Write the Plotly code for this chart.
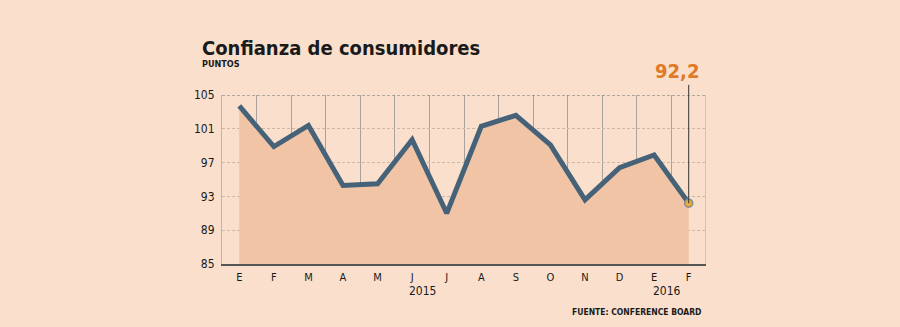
import plotly.graph_objects as go

months = ["E", "F", "M", "A", "M", "J", "J", "A", "S", "O", "N", "D", "E", "F"]
values = [103.7, 98.9, 101.4, 94.3, 94.5, 99.7, 91.0, 101.3, 102.6, 99.1, 92.6, 96.4, 97.9, 92.2]
y_ticks = [85, 89, 93, 97, 101, 105]
last_label = "92,2"

BG = "#F9DFCC"
FILL = "#F2C4A6"
LINE = "#456279"
ORANGE = "#E07A26"
FONT = "DejaVu Sans Condensed, DejaVu Sans, sans-serif"

xs = list(range(len(months)))

fig = go.Figure()
fig.add_trace(go.Scatter(
    x=xs, y=values, mode="lines",
    line=dict(color=LINE, width=5),
    fill="tozeroy", fillcolor=FILL,
    hoverinfo="skip", showlegend=False,
))

# right border line and top dashed line
fig.add_shape(type="line", xref="x", yref="y", x0=len(months) - 0.5, x1=len(months) - 0.5,
              y0=85, y1=105, line=dict(color="#D9C0AE", width=2), layer="below")
fig.add_shape(type="line", xref="x", yref="y", x0=-0.5, x1=len(months) - 0.5,
              y0=105, y1=105, line=dict(color="#6E6E6E", width=1, dash="3px,2px"))
# pointer line for last value
fig.add_shape(type="line", xref="x", yref="y", x0=xs[-1], x1=xs[-1],
              y0=values[-1], y1=105, line=dict(color="#333333", width=1))
fig.add_shape(type="line", xref="x", yref="paper", x0=xs[-1], x1=xs[-1],
              y0=1, y1=1.06, line=dict(color="#333333", width=1))

fig.add_trace(go.Scatter(
    x=[xs[-1]], y=[values[-1]], mode="markers",
    marker=dict(size=8, color="#EBAA3A", line=dict(color="#7D8C99", width=1.5)),
    showlegend=False, hoverinfo="skip",
))

fig.add_annotation(x=xs[-1], y=1, xref="x", yref="paper", text="<b>" + last_label + "</b>",
                   showarrow=False, xanchor="center", yanchor="bottom", xshift=-12, yshift=10,
                   font=dict(family=FONT, size=20, color=ORANGE))

fig.add_annotation(x=0, y=1, xref="paper", yref="paper", xanchor="left", yanchor="bottom",
                   text="<b>Confianza de consumidores</b>", showarrow=False,
                   xshift=-22, yshift=33, font=dict(family=FONT, size=20, color="#1a1a1a"))
fig.add_annotation(x=0, y=1, xref="paper", yref="paper", xanchor="left", yanchor="bottom",
                   text="<b>PUNTOS</b>", showarrow=False,
                   xshift=-22, yshift=24, font=dict(family=FONT, size=9, color="#1a1a1a"))
fig.add_annotation(x=5.3, y=0, xref="x", yref="paper", yanchor="top", text="2015",
                   showarrow=False, yshift=-18, font=dict(family=FONT, size=12, color="#1a1a1a"))
fig.add_annotation(x=12.38, y=0, xref="x", yref="paper", yanchor="top", text="2016",
                   showarrow=False, yshift=-18, font=dict(family=FONT, size=12, color="#1a1a1a"))
fig.add_annotation(x=1, y=0, xref="paper", yref="paper", xanchor="right", yanchor="top",
                   text="<b>FUENTE: CONFERENCE BOARD</b>", showarrow=False, xshift=-3, yshift=-41,
                   font=dict(family=FONT, size=8.5, color="#1a1a1a"))

fig.update_layout(
    width=900, height=327,
    margin=dict(l=222, r=194, t=95, b=63),
    paper_bgcolor=BG, plot_bgcolor=BG,
    font=dict(family=FONT, color="#1a1a1a"),
    xaxis=dict(
        range=[-0.5, len(months) - 0.5],
        tickmode="array", tickvals=xs, ticktext=months,
        showgrid=False, zeroline=False,
        showline=True, linecolor="#555555", linewidth=2,
        ticks="", tickfont=dict(size=11), ticklabelstandoff=2,
        minor=dict(tickmode="array", tickvals=[i + 0.5 for i in xs[:-1]],
                   showgrid=True, gridcolor="#A9A29C", gridwidth=1),
    ),
    yaxis=dict(
        range=[85, 105], tickmode="array", tickvals=y_ticks,
        showgrid=True, gridcolor="#CDB8A8", gridwidth=1, griddash="3px,2px",
        zeroline=False, showline=True, linecolor="#BDB3AB", linewidth=1,
        ticks="", tickfont=dict(size=12), ticklabelstandoff=4,
    ),
)

fig.write_html("out.html")
